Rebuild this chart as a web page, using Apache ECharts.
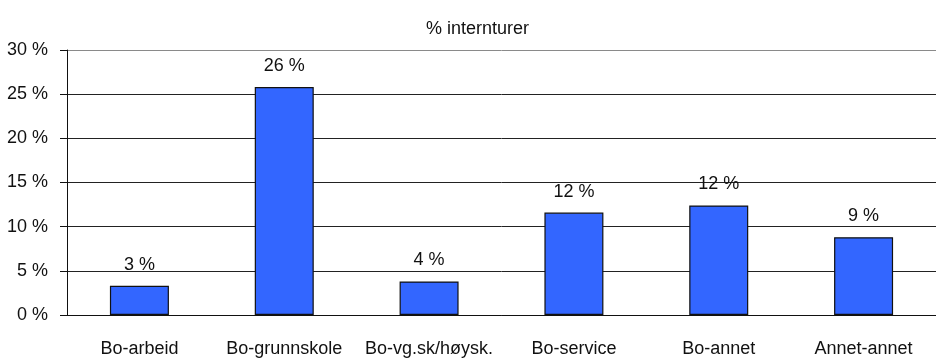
<!DOCTYPE html>
<html>
<head>
<meta charset="utf-8">
<title>% internturer</title>
<script src="https://cdn.jsdelivr.net/npm/echarts@6/dist/echarts.min.js"></script>
<style>
  html, body { margin: 0; padding: 0; background: #ffffff; }
  #chart { width: 936px; height: 358px; }
</style>
</head>
<body>
<div id="chart"></div>
<script>
// Share of internal trips by trip type (percent)
const categories = ['Bo-arbeid', 'Bo-grunnskole', 'Bo-vg.sk/høysk.', 'Bo-service', 'Bo-annet', 'Annet-annet'];
const shares = [3.3, 25.8, 3.8, 11.6, 12.4, 8.8];
const yTicks = [0, 5, 10, 15, 20, 25, 30];

const FONT = "'Liberation Sans', Arial, sans-serif";

const chart = echarts.init(document.getElementById('chart'), null, { renderer: 'canvas' });

chart.setOption({
  animation: false,
  backgroundColor: '#ffffff',
  title: {
    text: '% internturer',
    left: 426,
    top: 20,
    padding: 0,
    textStyle: { fontFamily: FONT, fontSize: 18, fontWeight: 'normal', color: '#111111' }
  },
  grid: { left: 67, right: -10, top: 50, bottom: 42, containLabel: false },
  xAxis: {
    type: 'category',
    data: categories,
    axisLine: { show: true, lineStyle: { color: '#111111', width: 1 } },
    axisTick: { show: false },
    axisLabel: { margin: 25, fontFamily: FONT, fontSize: 18, color: '#111111', interval: 0 }
  },
  yAxis: {
    type: 'value',
    min: yTicks[0],
    max: yTicks[yTicks.length - 1],
    interval: 5,
    axisLine: { show: true, lineStyle: { color: '#111111', width: 1 } },
    axisTick: { show: true, length: 7, lineStyle: { color: '#111111' } },
    axisLabel: {
      margin: 19,
      fontFamily: FONT,
      fontSize: 18,
      color: '#111111',
      formatter: v => v + ' %'
    },
    splitLine: {
      show: true,
      lineStyle: { color: ['#222222', '#222222', '#222222', '#222222', '#222222', '#222222', '#8a8a8a'], width: 1 }
    }
  },
  series: [{
    type: 'bar',
    data: shares,
    barWidth: 59,
    itemStyle: { color: '#3366ff', borderColor: '#111111', borderWidth: 1.2 },
    label: {
      show: true,
      position: 'top',
      distance: 12,
      fontFamily: FONT,
      fontSize: 18,
      color: '#111111',
      formatter: p => Math.round(p.value) + ' %'
    }
  }]
});
</script>
</body>
</html>
